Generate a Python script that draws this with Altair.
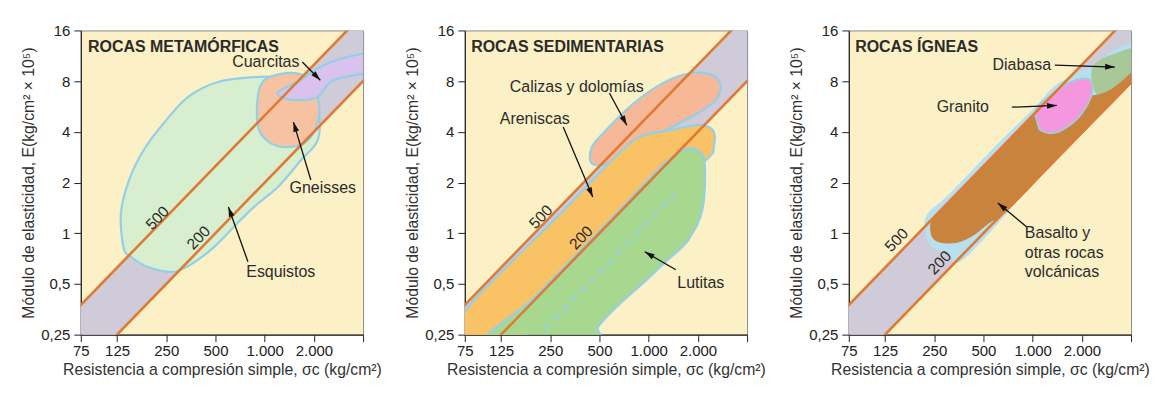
import math
import altair as alt
import pandas as pd

# ---------------- geometry / axes ----------------
W, H = 283, 305
X_DOMAIN = [75, 4000]
Y_DOMAIN = [0.25, 16]
X_TITLE = "Resistencia a compresión simple, σc (kg/cm²)"
Y_TITLE = "Módulo de elasticidad, E(kg/cm² × 10⁵)"

x_tick_values = [75, 125, 250, 500, 1000, 2000, 4000]
x_tick_labels = ["75", "125", "250", "500", "1.000", "2.000", ""]
y_tick_values = [0.25, 0.5, 1, 2, 4, 8, 16]
y_tick_labels = ["0,25", "0,5", "1", "2", "4", "8", "16"]

modulus_ratios = [500, 200]
ratio_sigma_ends = [60, 5000]

# ---------------- colours ----------------
CREAM = "#fcf0c6"
BAND = "#cfcbd9"
LINE = "#df7a35"
OUTLINE = "#93cfe6"
TEXT = "#2b2b2b"
FONT = "Liberation Sans"

# ---------------- Panel 1: metamórficas ----------------
esquistos_s = [137, 132, 148, 182, 241, 339, 517, 858, 1204, 1670, 2114, 2114, 1670, 1204, 858, 647, 491, 369, 278, 193, 152]
esquistos_E = [0.82, 1.32, 2.07, 3.12, 4.5, 6.43, 7.9, 8.45, 8.45, 7.8, 5.39, 3.58, 2.72, 1.88, 1.43, 1.09, 0.83, 0.67, 0.59, 0.63, 0.725]
gneisses_s = [903, 969, 1163, 1540, 1900, 2130, 2130, 1850, 1437, 1085, 916]
gneisses_E = [6.17, 7.9, 8.68, 8.92, 8.1, 6.17, 4.7, 3.58, 3.25, 3.43, 4.21]
cuarcitas_s = [1214, 1654, 2190, 3026, 4500, 4500, 2630, 2100, 1654, 1302]
cuarcitas_E = [6.9, 8.1, 9.7, 10.95, 11.6, 9.2, 8.1, 6.43, 6.17, 6.35]

p1_title = ("ROCAS METAMÓRFICAS", 83, 12.7)
p1_labels = ["Cuarcitas", "Gneisses", "Esquistos"]
p1_label_s = [1016, 2268, 1255]
p1_label_E = [10.4, 1.86, 0.59]
p1_ratio_s = [221, 394]
p1_ratio_E = [1.23, 0.94]
p1_arrow_s1 = [1700, 1916, 790]
p1_arrow_E1 = [10.4, 2.07, 0.677]
p1_arrow_s2 = [2190, 1500, 600]
p1_arrow_E2 = [8.1, 4.57, 1.43]

# ---------------- Panel 2: sedimentarias ----------------
calizas_s = [449, 449, 550, 759, 1115, 1607, 2260, 2720, 2650, 2140, 1540, 1010, 759, 575]
calizas_E = [2.6, 3.25, 4.1, 5.6, 7.4, 8.7, 8.9, 7.9, 6.4, 5.37, 4.5, 3.6, 3.0, 2.6]
areniscas_s = [65, 75, 309, 491, 570, 860, 1390, 1990, 2470, 2500, 2230, 947, 406, 175, 65]
areniscas_E = [0.2, 0.346, 1.40, 2.25, 2.6, 3.7, 4.1, 4.4, 4.1, 3.25, 2.7, 1.28, 0.57, 0.25, 0.2]
lutitas_s = [102, 193, 390, 791, 1255, 1712, 2026, 2205, 2130, 1750, 1310, 974, 638, 491, 449]
lutitas_E = [0.224, 0.403, 0.808, 1.64, 2.61, 3.16, 3.08, 2.54, 1.376, 0.914, 0.696, 0.53, 0.366, 0.279, 0.234]
lutitas_dash_s = [231, 1525]
lutitas_dash_E = [0.27, 1.8]

p2_title = ("ROCAS SEDIMENTARIAS", 82, 12.7)
p2_labels = ["Calizas y dolomías", "Areniscas", "Lutitas"]
p2_label_s = [363, 201, 2085]
p2_label_E = [7.37, 4.76, 0.508]
p2_ratio_s = [219, 386]
p2_ratio_E = [1.25, 0.94]
p2_arrow_s1 = [575, 300, 1466]
p2_arrow_E1 = [6.8, 4.27, 0.607]
p2_arrow_s2 = [735, 455, 947]
p2_arrow_E2 = [4.38, 1.64, 0.776]

# ---------------- Panel 3: ígneas ----------------
halo_s = [219, 231, 307, 621, 1016, 1347, 1785, 2400, 3137, 4000, 4785, 4785, 1255, 390, 307, 248, 225]
halo_E = [1.09, 1.32, 1.69, 3.43, 5.46, 7.37, 8.68, 9.96, 12.2, 13.4, 14.0, 9.5, 2.5, 0.725, 0.765, 0.82, 0.94]
diabasa_s = [2300, 2434, 3050, 4460, 4460, 3226, 2649, 2400]
diabasa_E = [8.92, 10.2, 11.4, 12.4, 8.5, 7.37, 6.43, 7.08]
basalto_s = [241, 238, 252, 307, 621, 1090, 1916, 2923, 4460, 4460, 2205, 1255, 715, 539, 436, 353, 286, 252]
basalto_E = [0.978, 1.12, 1.25, 1.51, 3.04, 5.17, 6.26, 6.98, 9.7, 8.68, 4.27, 2.44, 1.395, 1.15, 0.978, 0.889, 0.877, 0.914]
granito_s = [1090, 1045, 1255, 1670, 2114, 2300, 2268, 1916, 1507, 1255, 1121]
granito_E = [4.27, 5.39, 6.43, 7.8, 8.3, 7.8, 6.43, 4.9, 4.1, 3.93, 4.1]

p3_title = ("ROCAS ÍGNEAS", 82, 12.7)
p3_labels = ["Diabasa", "Granito"]
p3_label_s = [858, 374]
p3_label_E = [9.96, 5.6]
p3_left_labels = ["Basalto y", "otras rocas", "volcánicas"]
p3_left_s = [895, 895, 895]
p3_left_E = [1.0, 0.765, 0.59]
p3_ratio_s = [147, 270]
p3_ratio_E = [0.91, 0.668]
p3_arrow_s1 = [1366, 745, 921]
p3_arrow_E1 = [9.96, 5.6, 1.09]
p3_arrow_s2 = [3182, 1405, 612]
p3_arrow_E2 = [9.7, 5.74, 1.51]


# ---------------- helpers ----------------
def lab_expr(values, labels):
    parts = [f"abs(datum.value - {v}) < {v * 0.01} ? '{l}'" for v, l in zip(values, labels)]
    return " : ".join(parts) + " : ''"


X_AXIS = alt.Axis(values=x_tick_values, labelExpr=lab_expr(x_tick_values, x_tick_labels), title=X_TITLE)
Y_AXIS = alt.Axis(values=y_tick_values, labelExpr=lab_expr(y_tick_values, y_tick_labels), title=Y_TITLE)


def xenc(field):
    return alt.X(f"{field}:Q", scale=alt.Scale(type="log", domain=X_DOMAIN, nice=False), axis=X_AXIS)


def yenc(field):
    return alt.Y(f"{field}:Q", scale=alt.Scale(type="log", domain=Y_DOMAIN, nice=False), axis=Y_AXIS)


def band_layer():
    df = pd.DataFrame({"s": ratio_sigma_ends})
    df["lo"] = df.s * min(modulus_ratios) / 1e5
    df["hi"] = df.s * max(modulus_ratios) / 1e5
    return alt.Chart(df).mark_area(color=BAND, clip=True).encode(
        x=xenc("s"), y=yenc("lo"), y2=alt.Y2("hi:Q"))


def ratio_lines():
    rows = [{"ratio": r, "s": s, "E": s * r / 1e5} for r in modulus_ratios for s in ratio_sigma_ends]
    return alt.Chart(pd.DataFrame(rows)).mark_line(color=LINE, strokeWidth=2.6, clip=True).encode(
        x=xenc("s"), y=yenc("E"), detail="ratio:N")


def ratio_labels(s, E):
    df = pd.DataFrame({"s": s, "E": E, "t": [str(r) for r in modulus_ratios]})
    return alt.Chart(df).mark_text(font=FONT, fontSize=15.5, color=TEXT, angle=314,
                                   align="center", baseline="middle").encode(
        x=xenc("s"), y=yenc("E"), text="t:N")


def blob(s, E, fill, stroke=OUTLINE, sw=2.2):
    df = pd.DataFrame({"s": s, "E": E, "i": list(range(len(s)))})
    return alt.Chart(df).mark_line(fill=fill, stroke=stroke, strokeWidth=sw,
                                   interpolate="cardinal-closed", clip=True).encode(
        x=xenc("s"), y=yenc("E"), order="i:Q")


ARROW_PATH = "M0,0L0.3,1L-0.3,1Z"


def arrows(s1, E1, s2, E2):
    df = pd.DataFrame({"s1": s1, "E1": E1, "s2": s2, "E2": E2})
    kx = W / math.log2(X_DOMAIN[1] / X_DOMAIN[0])
    ky = H / math.log2(Y_DOMAIN[1] / Y_DOMAIN[0])
    df["ang"] = [
        math.degrees(math.atan2((math.log2(b) - math.log2(a)) * kx, (math.log2(d) - math.log2(c)) * ky)) % 360
        for a, b, c, d in zip(df.s1, df.s2, df.E1, df.E2)
    ]
    rule = alt.Chart(df).mark_rule(color="#111111", strokeWidth=1.3).encode(
        x=xenc("s1"), x2=alt.X2("s2:Q"), y=yenc("E1"), y2=alt.Y2("E2:Q"))
    head = alt.Chart(df).mark_point(shape=ARROW_PATH, filled=True, color="#111111", size=380, opacity=1).encode(
        x=xenc("s2"), y=yenc("E2"), angle=alt.Angle("ang:Q", scale=None))
    return rule + head


def texts(labels, s, E, align="center", bold=False, size=16):
    df = pd.DataFrame({"t": labels, "s": s, "E": E})
    return alt.Chart(df).mark_text(font=FONT, fontSize=size, color=TEXT, align=align, baseline="middle",
                                   fontWeight="bold" if bold else "normal").encode(
        x=xenc("s"), y=yenc("E"), text="t:N")


def panel(blobs, extra, title, ratio_pos, arrow_data, label_layers):
    layers = [band_layer()] + blobs + extra + [ratio_lines(), ratio_labels(*ratio_pos), arrows(*arrow_data),
                                               texts([title[0]], [title[1]], [title[2]], align="left", bold=True)]
    layers += label_layers
    return alt.layer(*layers).properties(width=W, height=H)


p1 = panel(
    [blob(esquistos_s, esquistos_E, "#d7efcf"),
     blob(gneisses_s, gneisses_E, "#f6c2a2"),
     blob(cuarcitas_s, cuarcitas_E, "#d9c3ee")],
    [], p1_title, (p1_ratio_s, p1_ratio_E),
    (p1_arrow_s1, p1_arrow_E1, p1_arrow_s2, p1_arrow_E2),
    [texts(p1_labels, p1_label_s, p1_label_E)])

dash_df = pd.DataFrame({"s": lutitas_dash_s, "E": lutitas_dash_E})
dash = alt.Chart(dash_df).mark_line(stroke=OUTLINE, strokeWidth=2.2, strokeDash=[7, 6], clip=True).encode(
    x=xenc("s"), y=yenc("E"))

p2 = panel(
    [blob(calizas_s, calizas_E, "#f6b897"),
     blob(areniscas_s, areniscas_E, "#f8c265"),
     blob(lutitas_s, lutitas_E, "#a8d88f")],
    [dash], p2_title, (p2_ratio_s, p2_ratio_E),
    (p2_arrow_s1, p2_arrow_E1, p2_arrow_s2, p2_arrow_E2),
    [texts(p2_labels, p2_label_s, p2_label_E)])

p3 = panel(
    [blob(halo_s, halo_E, "#b6dff0", stroke="#b6dff0", sw=1),
     blob(diabasa_s, diabasa_E, "#a8c997", stroke="#a8c997", sw=1),
     blob(basalto_s, basalto_E, "#c8843c", stroke="#c8843c", sw=1),
     blob(granito_s, granito_E, "#f497df", stroke="#a9c7d6", sw=2)],
    [], p3_title, (p3_ratio_s, p3_ratio_E),
    (p3_arrow_s1, p3_arrow_E1, p3_arrow_s2, p3_arrow_E2),
    [texts(p3_labels, p3_label_s, p3_label_E),
     texts(p3_left_labels, p3_left_s, p3_left_E, align="left")])

chart = alt.hconcat(p1, p2, p3, spacing=102, bounds="flush").properties(
    padding={"left": 12, "top": 14, "right": 4, "bottom": 4}
).configure(font=FONT, background="white").configure_view(
    fill=CREAM, stroke="#8a8a8a", strokeWidth=1
).configure_axis(
    domainColor="#222222", tickColor="#222222", labelColor="#222222", titleColor="#333333",
    labelFont=FONT, titleFont=FONT, labelFontSize=15, titleFontSize=15.8, titleFontWeight="normal",
    tickSize=7, labelPadding=4, grid=False, labelOverlap=False, labelFlush=False, domainWidth=1.2
).configure_axisY(minExtent=40, maxExtent=40, titlePadding=4).configure_axisX(labelPadding=2, titlePadding=4)

chart.save("out.html", embed_options={"renderer": "svg", "actions": False})
